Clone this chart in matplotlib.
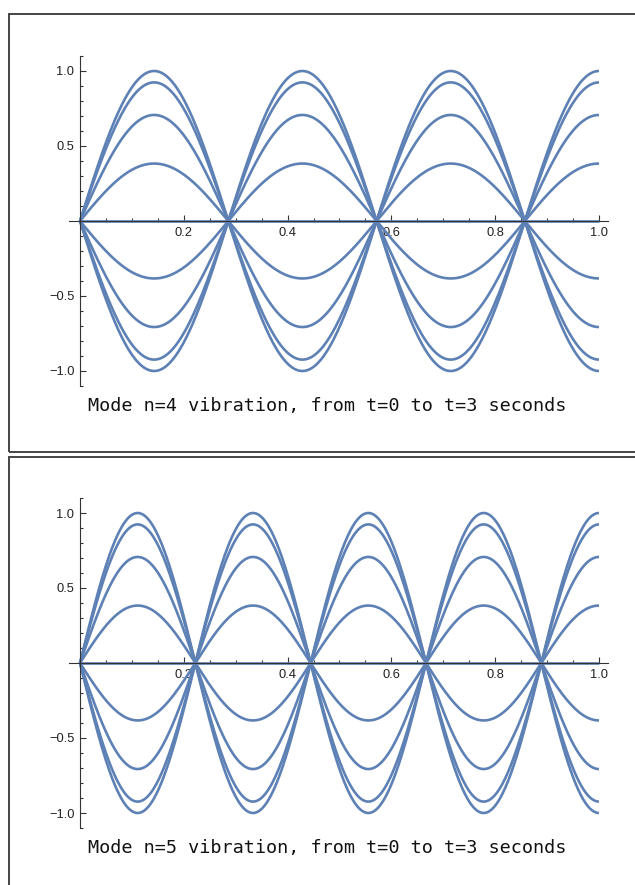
import numpy as np
import matplotlib
matplotlib.use("Agg")
import matplotlib.pyplot as plt
from matplotlib.patches import Rectangle
from matplotlib.ticker import FixedLocator, FixedFormatter

# ---- data ----
mode_numbers = [4, 5]
titles = ["Mode n=4 vibration, from t=0 to t=3 seconds",
          "Mode n=5 vibration, from t=0 to t=3 seconds"]
# amplitude factors of the snapshots (time samples)
amplitudes = [1.0, 0.924, 0.707, 0.383, 0.0, -0.383, -0.707, -0.924, -1.0]
x_major = [0.2, 0.4, 0.6, 0.8, 1.0]
x_major_labels = ["0.2", "0.4", "0.6", "0.8", "1.0"]
x_minor = [0.05, 0.1, 0.15, 0.25, 0.3, 0.35, 0.45, 0.5, 0.55, 0.65, 0.7, 0.75,
           0.85, 0.9, 0.95]
y_major = [-1.0, -0.5, 0.5, 1.0]
y_major_labels = ["\u22121.0", "\u22120.5", "0.5", "1.0"]
y_minor = [-1.1, -0.9, -0.8, -0.7, -0.6, -0.4, -0.3, -0.2, -0.1,
           0.1, 0.2, 0.3, 0.4, 0.6, 0.7, 0.8, 0.9, 1.1]

W, H = 635, 885
fig = plt.figure(figsize=(W / 100, H / 100), dpi=100)

curve_color = "#5E81B5"
axis_color = "#333333"

# panel geometry in pixels: (frame_top, frame_bottom, y0_pixel)
panels = [(14, 452, 221), (457, 890, 663)]
x_left_px, x_right_px = 69.1, 607.8
ppu_y = 150.0
ylo, yhi = -1.1, 1.1

xs = np.linspace(0, 1, 600)

for (ftop, fbot, y0), n, title in zip(panels, mode_numbers, titles):
    # frame
    fig.patches.append(Rectangle((9 / W, 1 - fbot / H), (W + 10 - 9) / W,
                                 (fbot - ftop) / H, transform=fig.transFigure,
                                 fill=False, edgecolor="#444444", linewidth=1.4))
    top_px = y0 - yhi * ppu_y
    bot_px = y0 - ylo * ppu_y
    ax = fig.add_axes([x_left_px / W, 1 - bot_px / H,
                       (x_right_px - x_left_px) / W, (bot_px - top_px) / H])
    ax.set_facecolor("none")
    k = (n - 0.5) * np.pi
    for a in amplitudes:
        ax.plot(xs, a * np.sin(k * xs), color=curve_color, lw=1.9,
                solid_capstyle="butt")
    ax.set_xlim(-0.021, 1.017)
    ax.set_ylim(ylo, yhi)
    for s in ["top", "right"]:
        ax.spines[s].set_visible(False)
    ax.spines["left"].set_position(("data", 0))
    ax.spines["bottom"].set_position(("data", 0))
    for s in ["left", "bottom"]:
        ax.spines[s].set_color(axis_color)
        ax.spines[s].set_linewidth(0.8)
    ax.xaxis.set_major_locator(FixedLocator(x_major))
    ax.xaxis.set_major_formatter(FixedFormatter(x_major_labels))
    ax.xaxis.set_minor_locator(FixedLocator(x_minor))
    ax.yaxis.set_major_locator(FixedLocator(y_major))
    ax.yaxis.set_major_formatter(FixedFormatter(y_major_labels))
    ax.yaxis.set_minor_locator(FixedLocator(y_minor))
    ax.tick_params(which="both", direction="in", color=axis_color, width=0.8)
    ax.tick_params(which="major", length=4.0, labelsize=9.3, labelcolor="#222222")
    ax.tick_params(which="minor", length=2.3)
    ax.tick_params(axis="x", which="major", pad=4)
    ax.tick_params(axis="y", which="major", pad=4)
    for lab in ax.get_xticklabels() + ax.get_yticklabels():
        lab.set_family(["Liberation Sans", "DejaVu Sans"])
    fig.text(88 / W, 1 - (y0 + 190) / H, title, ha="left", va="baseline",
             family="DejaVu Sans Mono", fontsize=13.3, color="#111111")

fig.savefig("out.png", dpi=100)
